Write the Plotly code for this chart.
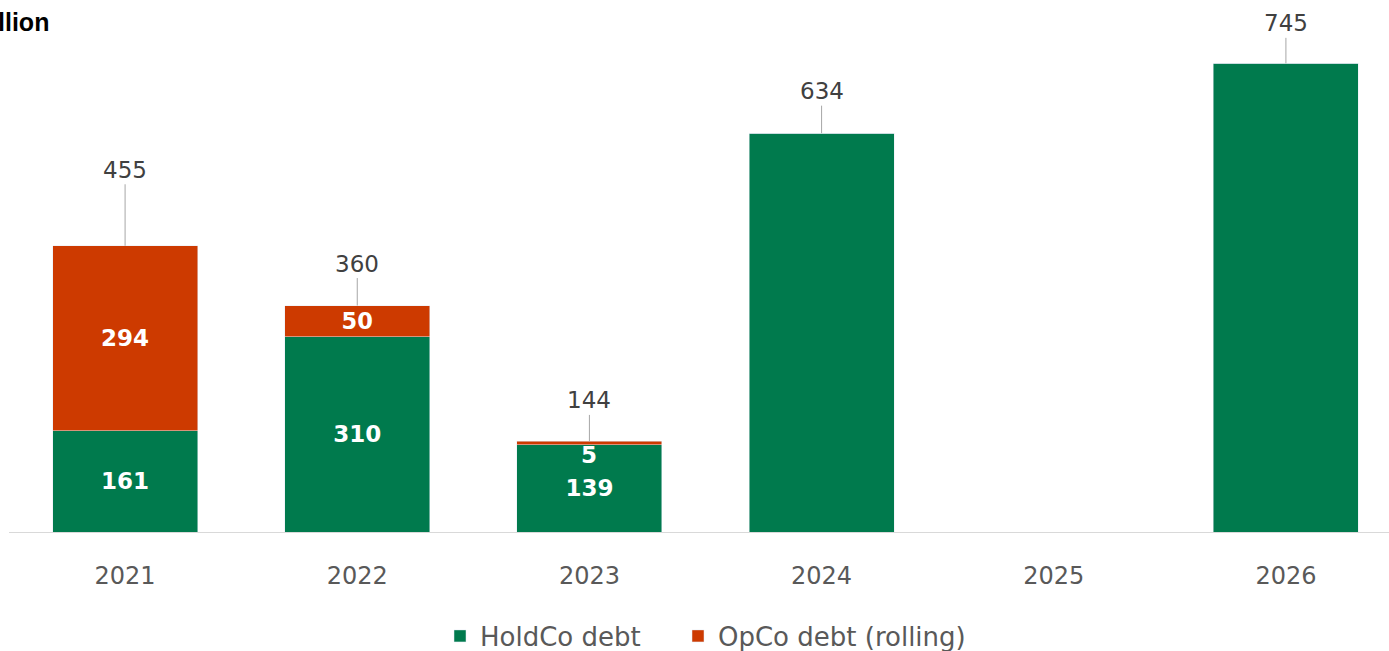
import plotly.graph_objects as go

years = ["2021", "2022", "2023", "2024", "2025", "2026"]
holdco = [161, 310, 139, 634, 0, 745]
opco = [294, 50, 5, 0, 0, 0]
holdco_labels = ["161", "310", "139", "", "", ""]
opco_labels = ["294", "50", "", "", "", ""]
totals = [455, 360, 144, 634, None, 745]

GREEN = "#007A4D"
ORANGE = "#CD3A00"
FONT = "DejaVu Sans"

fig = go.Figure()
fig.add_trace(go.Bar(
    x=years, y=holdco, name="HoldCo debt", marker_color=GREEN,
    text=holdco_labels, textposition="inside", insidetextanchor="middle",
    textfont=dict(color="white", size=23, family=FONT, weight="bold"),
    textangle=0, hoverinfo="skip", legend="legend",
))
fig.add_trace(go.Bar(
    x=years, y=opco, name="OpCo debt (rolling)", marker_color=ORANGE,
    text=opco_labels, textposition="inside", insidetextanchor="middle",
    textfont=dict(color="white", size=23, family=FONT, weight="bold"),
    textangle=0, hoverinfo="skip", legend="legend2",
))

offsets = [-76, -42, -41, -42, -40, -40]
for i, (tot, off) in enumerate(zip(totals, offsets)):
    if tot is None:
        continue
    fig.add_annotation(
        x=i, y=tot, text=str(tot), showarrow=True, arrowhead=0,
        arrowcolor="#A6A6A6", arrowwidth=1, ax=0, ay=off,
        font=dict(size=23, color="#404040", family=FONT),
    )

# small OpCo value shown just below its thin segment
fig.add_annotation(x=2, y=holdco[2] + opco[2], yshift=-14, text=str(opco[2]),
                   showarrow=False,
                   font=dict(size=23, color="white", family=FONT, weight="bold"))

fig.add_annotation(xref="paper", yref="paper", x=(51 - 9) / 1380, y=1,
                   yshift=-22, xanchor="right", yanchor="middle",
                   text="€ million", showarrow=False,
                   font=dict(size=25, color="black", family="Liberation Sans", weight="bold"))

legend_style = dict(orientation="h", xref="container", yref="container",
                    xanchor="left", yanchor="middle", y=(651 - 636) / 651,
                    bgcolor="rgba(0,0,0,0)",
                    font=dict(size=26, color="#595959", family=FONT))

fig.update_layout(
    barmode="stack", bargap=0.375,
    width=1389, height=651,
    margin=dict(l=9, r=0, t=0, b=119),
    plot_bgcolor="white", paper_bgcolor="white",
    xaxis=dict(type="category", range=[-0.5, 5.444], showline=True, linecolor="#D9D9D9",
               linewidth=1, ticks="", ticklabelstandoff=22,
               tickfont=dict(size=24, color="#595959", family=FONT),
               showgrid=False),
    yaxis=dict(range=[0, 845.7], visible=False, showgrid=False),
    legend=dict(legend_style, x=(459 - 19) / 1389),
    legend2=dict(legend_style, x=(697 - 19) / 1389),
    showlegend=True,
)
fig.write_html("out.html")
